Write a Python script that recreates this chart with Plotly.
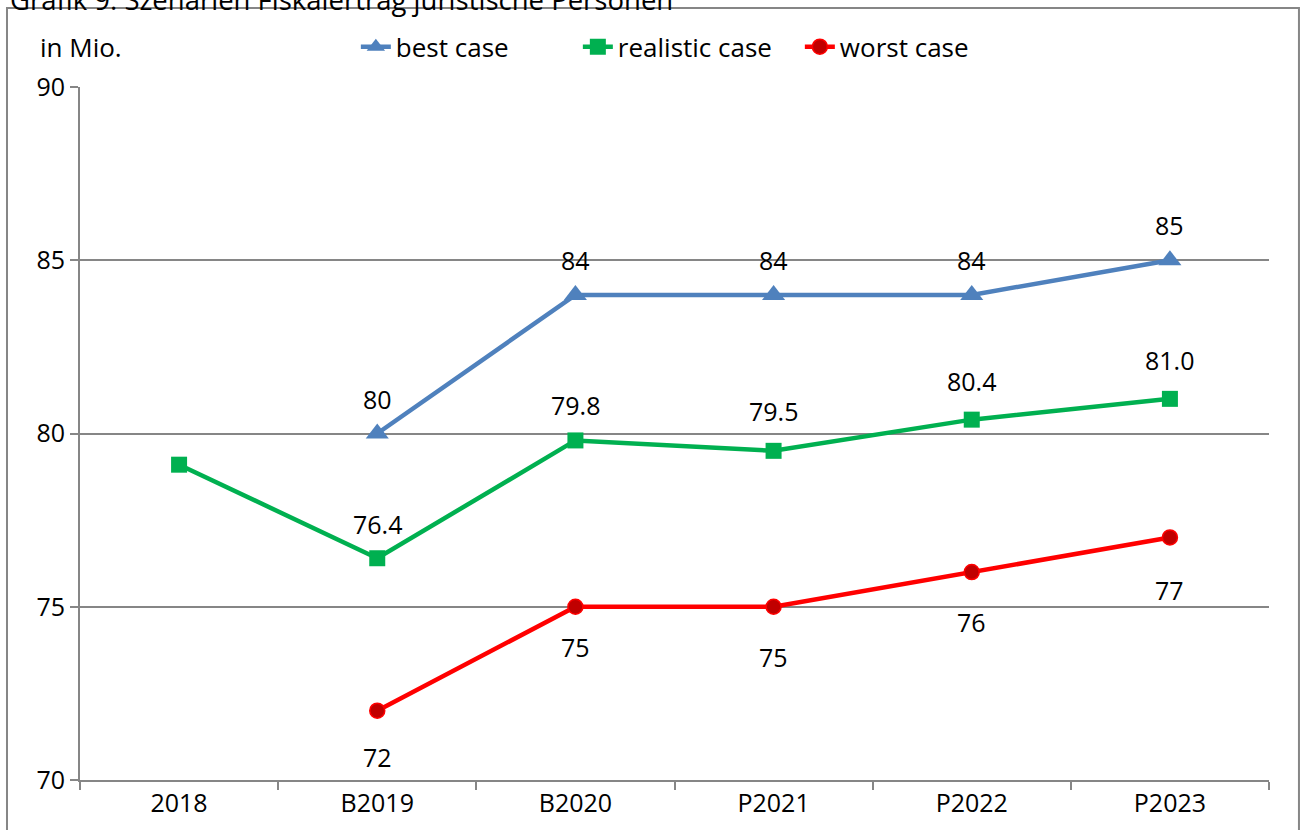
import plotly.graph_objects as go

categories = ["2018", "B2019", "B2020", "P2021", "P2022", "P2023"]
best_case = [None, 80, 84, 84, 84, 85]
realistic_case = [79.1, 76.4, 79.8, 79.5, 80.4, 81.0]
worst_case = [None, 72, 75, 75, 76, 77]

best_labels = ["", "80", "84", "84", "84", "85"]
realistic_labels = ["79.1", "76.4", "79.8", "79.5", "80.4", "81.0"]
worst_labels = ["", "72", "75", "75", "76", "77"]

# label offsets in pixels (styling)
best_shift = [0, 35, 35, 35, 35, 35]
realistic_shift = [51, 34, 35, 40, 39, 39]
worst_shift = [0, -46, -40, -50, -50, -53]

FONT = "Open Sans"
GRID = "#868686"

fig = go.Figure()
fig.add_trace(go.Scatter(
    x=categories, y=best_case, name="best case", mode="lines+markers",
    line=dict(color="#4F81BD", width=4.5),
    marker=dict(symbol="triangle-up", size=20, color="#4F81BD"),
))
fig.add_trace(go.Scatter(
    x=categories, y=realistic_case, name="realistic case", mode="lines+markers",
    line=dict(color="#00B050", width=4.5),
    marker=dict(symbol="square", size=16, color="#00B050"),
))
fig.add_trace(go.Scatter(
    x=categories, y=worst_case, name="worst case", mode="lines+markers",
    line=dict(color="#FF0000", width=4.5),
    marker=dict(symbol="circle", size=15, color="#C00000",
                line=dict(color="#FF0000", width=1.5)),
))

annotations = []
for vals, labs, shifts in [(best_case, best_labels, best_shift),
                           (realistic_case, realistic_labels, realistic_shift),
                           (worst_case, worst_labels, worst_shift)]:
    for c, v, t, s in zip(categories, vals, labs, shifts):
        if v is None:
            continue
        annotations.append(dict(x=c, y=v, xref="x", yref="y", text=t,
                                showarrow=False, yshift=s, yanchor="middle",
                                font=dict(family=FONT, size=25, color="black")))

annotations.append(dict(x=-0.0353, y=1.058, xref="paper", yref="paper",
                        text="in Mio.", showarrow=False, xanchor="left",
                        yanchor="middle",
                        font=dict(family=FONT, size=26, color="black")))
annotations.append(dict(x=-0.0606, y=1.1265, xref="paper", yref="paper",
                        text="Grafik 9: Szenarien Fiskalertrag juristische Personen",
                        showarrow=False, xanchor="left", yanchor="middle",
                        font=dict(family=FONT, size=27.5, color="black")))

fig.update_layout(
    width=1306, height=830,
    margin=dict(l=80, r=37, t=87, b=50),
    paper_bgcolor="white", plot_bgcolor="white",
    font=dict(family=FONT, size=25, color="black"),
    showlegend=True,
    legend=dict(orientation="h", x=0.232, y=1.058, xanchor="left",
                yanchor="middle", font=dict(family=FONT, size=26),
                entrywidth=177, entrywidthmode="pixels",
                tracegroupgap=0, bgcolor="rgba(0,0,0,0)"),
    annotations=annotations,
    shapes=[dict(type="rect", xref="paper", yref="paper",
                 x0=-0.0614, x1=1.0252, y0=-0.12, y1=1.114,
                 line=dict(color=GRID, width=2), layer="below")],
)

fig.update_xaxes(
    type="category", range=[-0.5, 5.5], showgrid=False,
    showline=True, linecolor=GRID, linewidth=2,
    ticks="outside", tickson="boundaries", ticklen=8, tickwidth=2,
    tickcolor=GRID, tickfont=dict(family=FONT, size=25),
)
fig.update_yaxes(
    range=[70, 90], dtick=5, showgrid=True, gridcolor=GRID, gridwidth=2,
    showline=True, linecolor=GRID, linewidth=2,
    ticks="outside", ticklen=8, tickwidth=2, tickcolor=GRID,
    tickfont=dict(family=FONT, size=25), zeroline=False,
)

fig.write_html("out.html",
               config={"displayModeBar": False},
               post_script="document.body.style.margin='0';document.body.style.overflow='hidden';")
